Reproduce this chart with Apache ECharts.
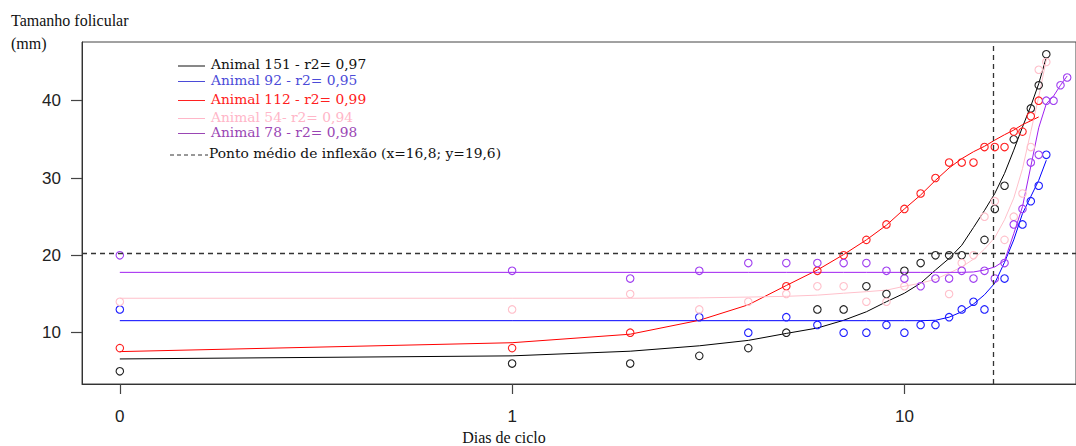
<!DOCTYPE html>
<html>
<head>
<meta charset="utf-8">
<script src="https://cdn.jsdelivr.net/npm/echarts@6/dist/echarts.min.js"></script>
<style>
html,body{margin:0;padding:0;background:#fff;}
#chart{width:1076px;height:446px;}
</style>
</head>
<body>
<div id="chart"></div>
<script>
// ---- data ----
const days = [0,1,2,3,4,5,6,7,8,9,10,11,12,13,14,15,16,17,18,19,20,21,22,23,24,25,26];
const xTickValues = [0.1, 1, 10];
const xTickLabels = ['0', '1', '10'];
const yTickValues = [10, 20, 30, 40];

const seriesNames = ['Animal 151 - r2= 0,97','Animal 92 - r2= 0,95','Animal 112 - r2= 0,99','Animal 54- r2= 0,94','Animal 78 - r2= 0,98'];
const inflexLabel = 'Ponto médio de inflexão (x=16,8; y=19,6)';
const inflexX = 16.8;
const inflexY = 20.3;

// observed follicle sizes per day (null = no observation)
const obs151 = [5,6,6,7,8,10,13,13,16,15,18,19,20,20,20,null,22,26,29,35,null,39,42,46];
const obs92  = [13,null,null,12,10,12,11,10,10,11,10,11,11,12,13,14,13,null,17,null,24,27,29,33];
const obs112 = [8,8,10,null,null,16,18,20,22,24,26,28,30,32,32,32,34,34,34,36,36,38,40];
const obs54  = [14,13,15,13,14,15,16,16,14,14,16,null,null,15,19,20,25,27,22,25,28,34,44,45];
const obs78  = [20,18,17,18,19,19,19,19,19,18,17,16,17,17,18,17,18,17,19,24,26,32,33,40,40,42,43];

// fitted curves, read per day
const fit151 = [6.6,7.0,7.6,8.3,9.0,9.9,10.6,11.6,12.7,14.0,15.1,16.4,18.1,19.6,21.3,23.6,25.8,28.0,30.6,33.6,36.6,39.3,42.2,45.6];
const fit92  = [11.55,11.55,11.55,11.55,11.55,11.55,11.55,11.55,11.55,11.55,11.55,11.55,11.6,12.0,12.7,13.7,14.9,16.4,19.1,22.0,25.4,27.6,29.7,32.3];
const fit112 = [7.55,8.7,9.8,11.6,13.6,16.1,18.1,20.1,22.0,23.9,26.0,27.8,29.7,31.3,32.5,33.4,34.1,34.9,35.6,36.2,36.9,37.4,37.9];
const fit54  = [14.45,14.45,14.45,14.5,14.6,14.7,14.85,15.1,15.3,15.5,16.0,16.4,16.9,17.7,18.5,19.5,20.8,22.3,24.6,27.4,31.2,36.0,40.5,45.3];
const fit78  = [17.8,17.8,17.8,17.8,17.8,17.8,17.8,17.8,17.8,17.8,17.8,17.8,17.8,17.8,17.8,17.85,18.1,18.5,19.3,22.8,26.3,31.5,36.5,39.6,40.6,42.0,43.2];

// ---- build ----
const xOf = d => d === 0 ? 0.1 : d;
const pts = arr => arr.map((v,i) => v == null ? null : [xOf(days[i]), v]).filter(p => p);

const lineColors  = ['#000000','#0000ff','#ff0000','#ffc0cb','#a020f0'];
const pointColors = ['#222222','#2020ff','#ff2020','#ffc0cb','#a040f0'];
const legendColors = ['#111111','#4b4bd8','#ff2020','#ffb6c8','#9a46b4'];
const obsList = [obs151, obs92, obs112, obs54, obs78];
const fitList = [fit151, fit92, fit112, fit54, fit78];

const series = [];
for (let k = 0; k < 5; k++) {
  series.push({
    type: 'line', name: seriesNames[k], data: pts(fitList[k]),
    smooth: false, showSymbol: false, silent: true,
    lineStyle: { color: lineColors[k], width: 1 }, z: 2
  });
  series.push({
    type: 'scatter', name: seriesNames[k] + ' obs', data: pts(obsList[k]),
    symbol: 'circle', symbolSize: 7.5, silent: true,
    itemStyle: { color: 'rgba(255,255,255,0)', borderColor: pointColors[k], borderWidth: 1.1, opacity: 1 },
    z: 3
  });
}
series.push({
  type: 'line', data: [], silent: true,
  markLine: {
    symbol: ['none','none'], silent: true, label: { show: false },
    lineStyle: { color: '#333', type: [5, 4], width: 1.3 },
    data: [{ xAxis: inflexX }, { yAxis: inflexY }],
    animation: false
  }
});

// legend rows drawn as graphic elements
const legendFont = '13.8px "DejaVu Serif"';
const legendY = [64, 79.5, 98.5, 116.5, 131.5, 153];
const graphic = [];
for (let k = 0; k < 5; k++) {
  graphic.push({ type: 'line', shape: { x1: 178, y1: legendY[k] + 2, x2: 205, y2: legendY[k] + 2 },
    style: { stroke: legendColors[k], lineWidth: 1 } });
  graphic.push({ type: 'text', x: 211, y: legendY[k],
    style: { text: seriesNames[k], fill: legendColors[k], font: legendFont, textVerticalAlign: 'middle' } });
}
graphic.push({ type: 'line', shape: { x1: 170, y1: legendY[5] + 2, x2: 208, y2: legendY[5] + 2 },
  style: { stroke: '#333', lineWidth: 1, lineDash: [4, 3] } });
graphic.push({ type: 'text', x: 209, y: legendY[5],
  style: { text: inflexLabel, fill: '#111', font: legendFont, textVerticalAlign: 'middle' } });
// axis titles
const titleFont = '16px "Liberation Serif"';
graphic.push({ type: 'text', x: 11, y: 20,
  style: { text: 'Tamanho folicular', fill: '#111', font: titleFont, textVerticalAlign: 'middle' } });
graphic.push({ type: 'text', x: 11, y: 43,
  style: { text: '(mm)', fill: '#111', font: titleFont, textVerticalAlign: 'middle' } });
graphic.push({ type: 'text', x: 504, y: 437,
  style: { text: 'Dias de ciclo', fill: '#111', font: titleFont, textAlign: 'center', textVerticalAlign: 'middle' } });

const chart = echarts.init(document.getElementById('chart'), null, { renderer: 'svg' });
chart.setOption({
  animation: false,
  backgroundColor: '#fff',
  grid: { left: 82, top: 42, width: 998, height: 342, show: true, borderColor: '#444', borderWidth: 1, containLabel: false },
  xAxis: {
    type: 'log', logBase: 10, min: 0.08009, max: 27.38,
    axisLine: { show: true, lineStyle: { color: '#333', width: 1 } },
    axisTick: { show: true, length: 10, lineStyle: { color: '#444', width: 1.2 }, customValues: xTickValues },
    axisLabel: { show: true, margin: 24, color: '#222', fontFamily: 'Liberation Sans', fontSize: 17,
      customValues: xTickValues,
      formatter: v => { const i = xTickValues.findIndex(t => Math.abs(Math.log10(t) - Math.log10(v)) < 1e-6); return i >= 0 ? xTickLabels[i] : ''; } },
    splitLine: { show: false }, minorTick: { show: false }
  },
  yAxis: {
    type: 'value', min: 3.36, max: 47.59,
    axisLine: { show: true, lineStyle: { color: '#333', width: 1 } },
    axisTick: { show: true, length: 11, lineStyle: { color: '#444', width: 1.2 }, customValues: yTickValues },
    axisLabel: { show: true, margin: 21, color: '#222', fontFamily: 'Liberation Sans', fontSize: 17,
      padding: [5, 0, 0, 0], customValues: yTickValues },
    splitLine: { show: false }
  },
  graphic: graphic,
  series: series
});
</script>
</body>
</html>
